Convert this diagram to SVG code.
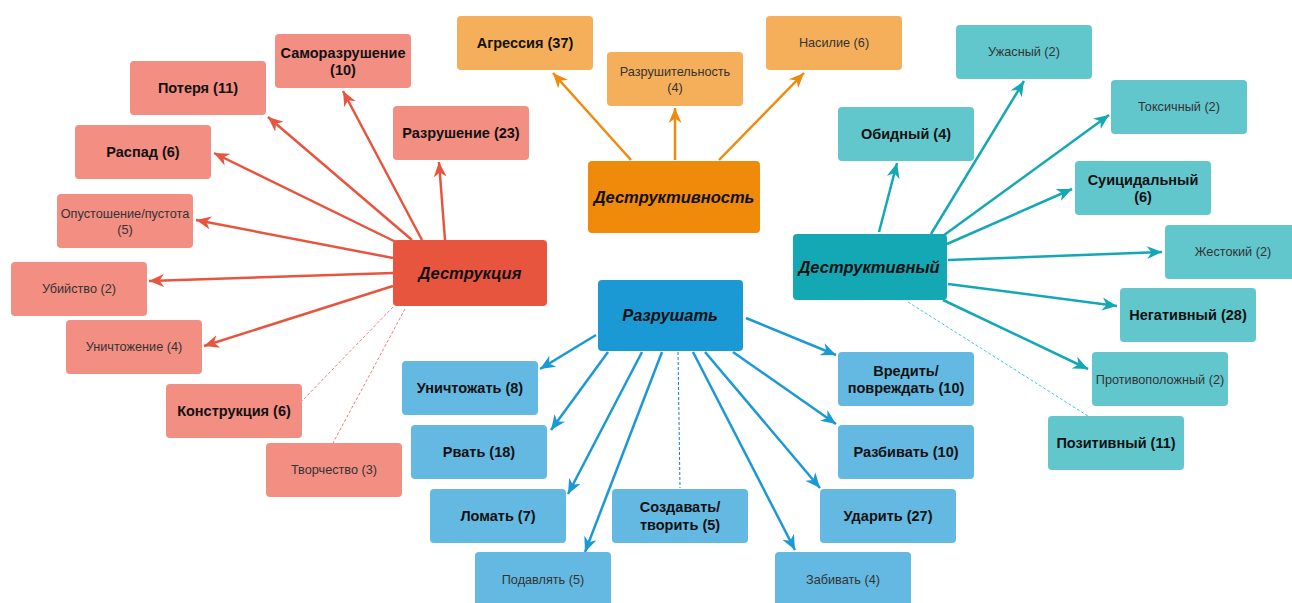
<svg xmlns="http://www.w3.org/2000/svg" width="1292" height="603" viewBox="0 0 1292 603">
<style>
text{font-family:"Liberation Sans",Arial,sans-serif;text-anchor:middle;dominant-baseline:central}
.b{font-size:14.5px;font-weight:bold;fill:#111}
.r{font-size:12.7px;fill:#333}
.c{font-size:16.5px;font-weight:bold;font-style:italic;fill:#111}
.rs{fill:#F28E82}
.os{fill:#F5AF5A}
.ts{fill:#62C6CD}
.bs{fill:#63B9E2}
.lr{stroke:#E8553F;stroke-width:2.5;fill:none;marker-end:url(#ar)}
.lo{stroke:#EF8A0B;stroke-width:2.5;fill:none;marker-end:url(#ao)}
.lt{stroke:#14A8B4;stroke-width:2.5;fill:none;marker-end:url(#at)}
.lb{stroke:#1A99D4;stroke-width:2.5;fill:none;marker-end:url(#ab)}
.dr{stroke:#F07F70;stroke-width:1;stroke-dasharray:3 2;fill:none}
.dt{stroke:#3FCCD6;stroke-width:1;stroke-dasharray:3 2;fill:none}
.db{stroke:#1A77C9;stroke-width:1;stroke-dasharray:3 2;fill:none}
</style>
<defs>
<marker id="ar" markerUnits="userSpaceOnUse" markerWidth="17" markerHeight="15" refX="15" refY="7.5" orient="auto"><path d="M0,1 L15,7.5 L0,14 L4.5,7.5 z" fill="#E8553F"/></marker>
<marker id="ao" markerUnits="userSpaceOnUse" markerWidth="17" markerHeight="15" refX="15" refY="7.5" orient="auto"><path d="M0,1 L15,7.5 L0,14 L4.5,7.5 z" fill="#EF8A0B"/></marker>
<marker id="at" markerUnits="userSpaceOnUse" markerWidth="17" markerHeight="15" refX="15" refY="7.5" orient="auto"><path d="M0,1 L15,7.5 L0,14 L4.5,7.5 z" fill="#14A8B4"/></marker>
<marker id="ab" markerUnits="userSpaceOnUse" markerWidth="17" markerHeight="15" refX="15" refY="7.5" orient="auto"><path d="M0,1 L15,7.5 L0,14 L4.5,7.5 z" fill="#1A99D4"/></marker>
</defs>
<rect width="1292" height="603" fill="#fff"/>
<g id="connectors">
<line class="lr" x1="422" y1="240" x2="343" y2="91"/>
<line class="lr" x1="412" y1="240" x2="268" y2="117"/>
<line class="lr" x1="400" y1="244" x2="214" y2="153"/>
<line class="lr" x1="393" y1="258" x2="196" y2="220"/>
<line class="lr" x1="393" y1="273" x2="149" y2="281"/>
<line class="lr" x1="393" y1="286" x2="204" y2="346"/>
<line class="lr" x1="445" y1="240" x2="439" y2="162"/>
<line class="dr" x1="393" y1="307" x2="302" y2="401"/>
<line class="dr" x1="405" y1="309" x2="333" y2="443"/>
<line class="lo" x1="631" y1="160" x2="553" y2="73"/>
<line class="lo" x1="675" y1="160" x2="675" y2="108"/>
<line class="lo" x1="719" y1="160" x2="804" y2="73"/>
<line class="lt" x1="879" y1="232" x2="897" y2="163"/>
<line class="lt" x1="931" y1="234" x2="1024" y2="81"/>
<line class="lt" x1="940" y1="238" x2="1109" y2="115"/>
<line class="lt" x1="947" y1="244" x2="1072" y2="189"/>
<line class="lt" x1="948" y1="260" x2="1162" y2="252"/>
<line class="lt" x1="948" y1="284" x2="1117" y2="306"/>
<line class="lt" x1="943" y1="300" x2="1088" y2="369"/>
<line class="dt" x1="908" y1="302" x2="1088" y2="416"/>
<line class="lb" x1="596" y1="335" x2="540" y2="369"/>
<line class="lb" x1="608" y1="352" x2="551" y2="430"/>
<line class="lb" x1="642" y1="352" x2="568" y2="494"/>
<line class="lb" x1="662" y1="352" x2="585" y2="552"/>
<line class="db" x1="678" y1="352" x2="680" y2="488"/>
<line class="lb" x1="693" y1="352" x2="795" y2="550"/>
<line class="lb" x1="705" y1="352" x2="820" y2="488"/>
<line class="lb" x1="733" y1="352" x2="836" y2="424"/>
<line class="lb" x1="746" y1="318" x2="836" y2="355"/>
</g>
<g id="n-destrukciya"><rect x="393" y="240" width="154" height="66" rx="4" fill="#E8553F"/><text class="c" x="470" y="273">Деструкция</text></g>
<g id="n-samorazr"><rect class="rs" x="275" y="34" width="136" height="54" rx="4"/><text class="b" x="343" y="53">Саморазрушение</text><text class="b" x="343" y="70">(10)</text></g>
<g id="n-poterya"><rect class="rs" x="130" y="61" width="136" height="54" rx="4"/><text class="b" x="198" y="88">Потеря (11)</text></g>
<g id="n-razrushenie"><rect class="rs" x="393" y="106" width="136" height="54" rx="4"/><text class="b" x="461" y="133">Разрушение (23)</text></g>
<g id="n-raspad"><rect class="rs" x="75" y="125" width="136" height="54" rx="4"/><text class="b" x="143" y="152">Распад (6)</text></g>
<g id="n-opust"><rect class="rs" x="57" y="194" width="136" height="54" rx="4"/><text class="r" x="125" y="214">Опустошение/пустота</text><text class="r" x="125" y="230">(5)</text></g>
<g id="n-ubiystvo"><rect class="rs" x="11" y="262" width="136" height="54" rx="4"/><text class="r" x="79" y="289">Убийство (2)</text></g>
<g id="n-unichtozhenie"><rect class="rs" x="66" y="320" width="136" height="54" rx="4"/><text class="r" x="134" y="347">Уничтожение (4)</text></g>
<g id="n-konstr"><rect class="rs" x="166" y="384" width="136" height="54" rx="4"/><text class="b" x="234" y="411">Конструкция (6)</text></g>
<g id="n-tvorch"><rect class="rs" x="266" y="443" width="136" height="54" rx="4"/><text class="r" x="334" y="470">Творчество (3)</text></g>
<g id="n-destruktivnost"><rect x="588" y="161" width="172" height="72" rx="4" fill="#EF8A0B"/><text class="c" x="674" y="197">Деструктивность</text></g>
<g id="n-agressiya"><rect class="os" x="457" y="16" width="136" height="54" rx="4"/><text class="b" x="525" y="43">Агрессия (37)</text></g>
<g id="n-razrushit"><rect class="os" x="607" y="52" width="136" height="54" rx="4"/><text class="r" x="675" y="72">Разрушительность</text><text class="r" x="675" y="88">(4)</text></g>
<g id="n-nasilie"><rect class="os" x="766" y="16" width="136" height="54" rx="4"/><text class="r" x="834" y="43">Насилие (6)</text></g>
<g id="n-destruktivny"><rect x="793" y="234" width="154" height="66" rx="4" fill="#14A8B4"/><text class="c" x="869" y="267">Деструктивный</text></g>
<g id="n-uzhasny"><rect class="ts" x="956" y="25" width="136" height="54" rx="4"/><text class="r" x="1024" y="52">Ужасный (2)</text></g>
<g id="n-obidny"><rect class="ts" x="838" y="107" width="136" height="54" rx="4"/><text class="b" x="906" y="134">Обидный (4)</text></g>
<g id="n-toksichny"><rect class="ts" x="1111" y="80" width="136" height="54" rx="4"/><text class="r" x="1179" y="107">Токсичный (2)</text></g>
<g id="n-suicid"><rect class="ts" x="1075" y="161" width="136" height="54" rx="4"/><text class="b" x="1143" y="180">Суицидальный</text><text class="b" x="1143" y="197">(6)</text></g>
<g id="n-zhestoky"><rect class="ts" x="1165" y="225" width="136" height="54" rx="4"/><text class="r" x="1233" y="252">Жестокий (2)</text></g>
<g id="n-negativny"><rect class="ts" x="1120" y="288" width="136" height="54" rx="4"/><text class="b" x="1188" y="315">Негативный (28)</text></g>
<g id="n-protiv"><rect class="ts" x="1092" y="352" width="136" height="54" rx="4"/><text class="r" x="1160" y="380">Противоположный (2)</text></g>
<g id="n-pozitivny"><rect class="ts" x="1048" y="416" width="136" height="54" rx="4"/><text class="b" x="1116" y="443">Позитивный (11)</text></g>
<g id="n-razrushat"><rect x="598" y="280" width="145" height="71" rx="4" fill="#1A99D4"/><text class="c" x="670" y="315">Разрушать</text></g>
<g id="n-unichtozhat"><rect class="bs" x="402" y="361" width="136" height="54" rx="4"/><text class="b" x="470" y="388">Уничтожать (8)</text></g>
<g id="n-rvat"><rect class="bs" x="411" y="425" width="136" height="54" rx="4"/><text class="b" x="479" y="452">Рвать (18)</text></g>
<g id="n-lomat"><rect class="bs" x="430" y="489" width="136" height="54" rx="4"/><text class="b" x="498" y="516">Ломать (7)</text></g>
<g id="n-podavlyat"><rect class="bs" x="475" y="552" width="136" height="56" rx="4"/><text class="r" x="543" y="580">Подавлять (5)</text></g>
<g id="n-sozdavat"><rect class="bs" x="612" y="489" width="136" height="54" rx="4"/><text class="b" x="680" y="507">Создавать/</text><text class="b" x="680" y="525">творить (5)</text></g>
<g id="n-vredit"><rect class="bs" x="838" y="352" width="136" height="54" rx="4"/><text class="b" x="906" y="371">Вредить/</text><text class="b" x="906" y="388">повреждать (10)</text></g>
<g id="n-razbivat"><rect class="bs" x="838" y="425" width="136" height="54" rx="4"/><text class="b" x="906" y="452">Разбивать (10)</text></g>
<g id="n-udarit"><rect class="bs" x="820" y="489" width="136" height="54" rx="4"/><text class="b" x="888" y="516">Ударить (27)</text></g>
<g id="n-zabivat"><rect class="bs" x="775" y="552" width="136" height="56" rx="4"/><text class="r" x="843" y="580">Забивать (4)</text></g>
</svg>
